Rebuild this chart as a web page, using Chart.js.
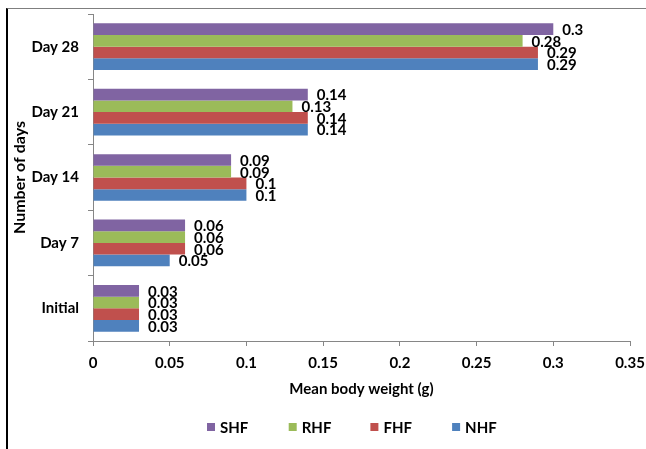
<!DOCTYPE html>
<html>
<head>
<meta charset="utf-8">
<script src="https://cdn.jsdelivr.net/npm/chart.js@4"></script>
<style>
  body { margin: 0; background: #fff; overflow: hidden; }
  #frame { position: absolute; left: 6px; top: 8px; width: 700px; height: 500px;
           border-left: 2px solid #000; border-top: 1px solid #7f7f7f; }
  #chart { position: absolute; left: 0; top: 0; }
</style>
</head>
<body>
<div id="frame"></div>
<canvas id="chart" width="646" height="449"></canvas>
<script>
// categories, top to bottom
const days = ['Day 28', 'Day 21', 'Day 14', 'Day 7', 'Initial'];
// mean body weight (g) per treatment
const shf = [0.3, 0.14, 0.09, 0.06, 0.03];
const rhf = [0.28, 0.13, 0.09, 0.06, 0.03];
const fhf = [0.29, 0.14, 0.1, 0.06, 0.03];
const nhf = [0.29, 0.14, 0.1, 0.05, 0.03];
const xTicks = [0, 0.05, 0.1, 0.15, 0.2, 0.25, 0.3, 0.35];

const axisColor = '#868686';
const boldFont = { family: 'Lato', size: 15, weight: 'bold' };

// value labels at the end of each bar
const barLabels = {
    id: 'barLabels',
    afterDatasetsDraw(chart) {
        const ctx = chart.ctx;
        ctx.save();
        ctx.font = 'bold 15px Lato';
        ctx.fillStyle = '#000';
        ctx.textAlign = 'left';
        ctx.textBaseline = 'middle';
        chart.data.datasets.forEach((ds, i) => {
            chart.getDatasetMeta(i).data.forEach((bar, j) => {
                ctx.fillText(String(ds.data[j]), bar.x + 9, bar.y + 1);
            });
        });
        ctx.restore();
    }
};

// Excel-style legend row below the axis title
const bottomLegend = {
    id: 'bottomLegend',
    afterDraw(chart) {
        const ctx = chart.ctx;
        const area = chart.chartArea;
        const step = 81.7;
        let x = (area.left + area.right) / 2 - 154.5;
        const y = 427;
        ctx.save();
        ctx.font = 'bold 15px Lato';
        ctx.textAlign = 'left';
        ctx.textBaseline = 'middle';
        chart.data.datasets.forEach(ds => {
            ctx.fillStyle = ds.backgroundColor;
            ctx.fillRect(x, y - 4, 8, 8);
            ctx.fillStyle = '#000';
            ctx.fillText(ds.label, x + 13, y + 1);
            x += step;
        });
        ctx.restore();
    }
};

new Chart(document.getElementById('chart'), {
    type: 'bar',
    data: {
        labels: days,
        datasets: [
            { label: 'SHF', data: shf, backgroundColor: '#8064A2' },
            { label: 'RHF', data: rhf, backgroundColor: '#9BBB59' },
            { label: 'FHF', data: fhf, backgroundColor: '#C0504D' },
            { label: 'NHF', data: nhf, backgroundColor: '#4F81BD' }
        ]
    },
    options: {
        indexAxis: 'y',
        responsive: false,
        animation: false,
        categoryPercentage: 0.714,
        barPercentage: 1,
        layout: { padding: { top: 14, right: 16, bottom: 51, left: 0 } },
        plugins: {
            legend: { display: false },
            tooltip: { enabled: false }
        },
        scales: {
            x: {
                min: 0,
                max: 0.35,
                afterBuildTicks: scale => { scale.ticks = xTicks.map(v => ({ value: v })); },
                afterFit: scale => {
                    scale.paddingLeft = 0;
                    scale.paddingRight = 0;
                    scale.height = 57;
                },
                ticks: {
                    color: '#000',
                    font: boldFont,
                    padding: 8,
                    callback: v => String(+v.toFixed(2))
                },
                grid: { drawOnChartArea: false, tickLength: 5, color: axisColor },
                border: { color: axisColor },
                title: {
                    display: true,
                    text: 'Mean body weight (g)',
                    color: '#000',
                    font: boldFont,
                    padding: { top: 0, bottom: 0 }
                }
            },
            y: {
                afterFit: scale => {
                    scale.width = 93;
                    scale.paddingTop = 0;
                    scale.paddingBottom = 0;
                },
                ticks: { color: '#000', font: boldFont, padding: 9 },
                grid: { drawOnChartArea: false, tickLength: 5, color: axisColor },
                border: { color: axisColor },
                title: {
                    display: true,
                    text: 'Number of days',
                    color: '#000',
                    font: { family: 'Lato', size: 16, weight: 'bold' },
                    padding: { top: 10, bottom: 0 }
                }
            }
        }
    },
    plugins: [barLabels, bottomLegend]
});
</script>
</body>
</html>
